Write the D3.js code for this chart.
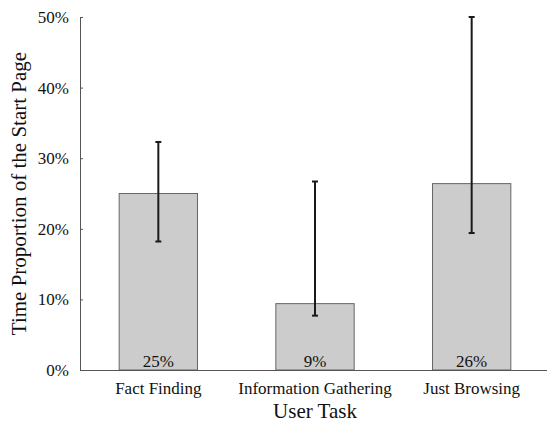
<!DOCTYPE html>
<html>
<head>
<meta charset="utf-8">
<script src="https://d3js.org/d3.v7.min.js"></script>
<style>
  body { margin: 0; background: #fff; }
</style>
</head>
<body>
<div id="chart"></div>
<script>
// data
var tasks = ["Fact Finding", "Information Gathering", "Just Browsing"]
var meanShare = [0.250, 0.094, 0.264]
var errLow = [0.182, 0.077, 0.194]
var errHigh = [0.323, 0.267, 0.500]
var barLabels = ["25%", "9%", "26%"]
var yTicks = [0, 0.1, 0.2, 0.3, 0.4, 0.5]

var width = 547, height = 423
var margin = {top: 17, right: -3, bottom: 53, left: 80}
var serif = "'Liberation Serif', 'Times New Roman', serif"

var svg = d3.select("#chart")
            .append("svg")
            .attr("width", width)
            .attr("height", height)

var x = d3.scaleBand()
          .domain(tasks)
          .range([margin.left, width - margin.right])
          .paddingInner(0.5)
          .paddingOuter(0.25)

var y = d3.scaleLinear()
          .domain([0, 0.5])
          .range([height - margin.bottom, margin.top])

var rows = tasks.map(function(t, i) {
    return {task: t, v: meanShare[i], lo: errLow[i], hi: errHigh[i], lab: barLabels[i]}
})

// bars
svg.append("g")
   .selectAll("rect")
   .data(rows)
   .enter().append("rect")
   .attr("x", function(d) { return x(d.task) })
   .attr("y", function(d) { return y(d.v) })
   .attr("width", x.bandwidth())
   .attr("height", function(d) { return y(0) - y(d.v) })
   .attr("fill", "#cccccc")
   .attr("stroke", "#666")
   .attr("stroke-width", 1)

// error bars
var eb = svg.append("g").attr("stroke", "#1a1a1a").attr("stroke-width", 2)
rows.forEach(function(d) {
    var cx = x(d.task) + x.bandwidth() / 2
    eb.append("line").attr("x1", cx).attr("x2", cx).attr("y1", y(d.lo)).attr("y2", y(d.hi))
    eb.append("line").attr("x1", cx - 3).attr("x2", cx + 3).attr("y1", y(d.lo)).attr("y2", y(d.lo))
    eb.append("line").attr("x1", cx - 3).attr("x2", cx + 3).attr("y1", y(d.hi)).attr("y2", y(d.hi))
})

// value labels inside bars
svg.append("g")
   .selectAll("text")
   .data(rows)
   .enter().append("text")
   .attr("x", function(d) { return x(d.task) + x.bandwidth() / 2 })
   .attr("y", y(0) - 3.5)
   .attr("text-anchor", "middle")
   .style("font-family", serif)
   .style("font-size", "17px")
   .attr("fill", "#111")
   .text(function(d) { return d.lab })

// y axis, ticks pointing inwards
var yAxis = svg.append("g")
               .attr("transform", "translate(" + margin.left + ",0)")
               .call(d3.axisLeft(y).tickValues(yTicks).tickFormat(d3.format(".0%"))
                       .tickSizeInner(-3).tickSizeOuter(0).tickPadding(11))
yAxis.select(".domain").attr("stroke", "#555")
yAxis.selectAll(".tick line").attr("stroke", "#555")
yAxis.selectAll("text").style("font-family", serif).style("font-size", "17px").attr("fill", "#111")

// x axis
var xAxis = svg.append("g")
               .attr("transform", "translate(0," + y(0) + ")")
               .call(d3.axisBottom(x).tickSize(0).tickPadding(12))
xAxis.select(".domain").attr("stroke", "#555")
xAxis.selectAll("text").style("font-family", serif).style("font-size", "17px").attr("fill", "#111")

// titles
svg.append("text")
   .attr("transform", "translate(26," + (y(0.25)) + ")rotate(-90)")
   .attr("text-anchor", "middle")
   .style("font-family", serif)
   .style("font-size", "21px")
   .attr("fill", "#111")
   .text("Time Proportion of the Start Page")

svg.append("text")
   .attr("x", x("Information Gathering") + x.bandwidth() / 2)
   .attr("y", 418)
   .attr("text-anchor", "middle")
   .style("font-family", serif)
   .style("font-size", "21px")
   .attr("fill", "#111")
   .text("User Task")
</script>
</body>
</html>
